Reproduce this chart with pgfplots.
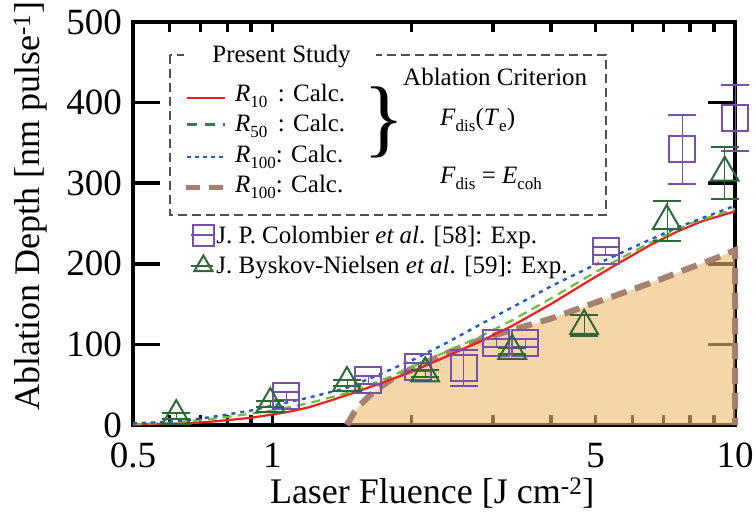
\documentclass[border=0pt]{standalone}
\usepackage{fontspec}
\setmainfont{Liberation Serif}
\usepackage{pgfplots}
\pgfplotsset{compat=1.18}

\definecolor{cred}{RGB}{240,30,30}
\definecolor{cgreenL}{RGB}{110,190,60}
\definecolor{cgreenD}{RGB}{60,120,80}
\definecolor{cblue}{RGB}{30,90,200}
\definecolor{cbrown}{RGB}{168,128,112}
\definecolor{cfill}{RGB}{238,187,110}
\definecolor{cpurple}{RGB}{120,80,170}
\definecolor{ctri}{RGB}{45,105,55}
\definecolor{cbox}{RGB}{80,80,80}

\newcommand{\sbs}[1]{\raisebox{-0.45ex}{\fontsize{17}{17}\selectfont #1}}

\pgfplotstableread{
x y
0.5 0.5
0.6 1.5
0.7 3
0.8 6
0.9 9
1.0 13
1.1 17
1.2 22
1.33 30
1.5 40
1.7 51
2.0 66
2.4 86
2.82 104
3.3 123
4.0 150
4.87 180
5.5 198
6.5 222
7.5 240
8.5 253
10 265
}\rten

\pgfplotstableread{
x y
0.5 1
0.6 3
0.7 6
0.8 10
0.9 14
1.0 18
1.2 27
1.5 42
1.8 60
2.0 72
2.4 92
2.82 110
3.3 130
4.0 157
4.87 186
5.5 203
6.5 225
8.0 250
10 268
}\rfifty

\pgfplotstableread{
x y
0.5 2
0.6 4
0.7 8
0.8 13
0.9 18
1.0 24
1.2 34
1.45 46
1.63 58
2.0 80
2.4 103
2.82 125
3.3 146
4.0 172
4.87 196
6.0 220
7.5 245
10 272
}\rhund

\pgfplotstableread{
x y
1.45 0
1.5 15
1.55 25
1.62 36
1.71 47
1.85 60
2.0 70
2.4 90
2.82 106
3.3 118
4.0 132
5.0 152
6.0 168
7.0 182
8.0 195
9.0 206
10 217
10 0
}\rcoh

\pgfplotstableread{
x y e
1.07 36 5
1.61 56 5
2.07 72 5
2.59 71 22
3.05 102 5
3.52 102 5
5.25 216 5
7.7 342 43
10 381 41
}\colombier

\pgfplotstableread{
x y e
0.62 11 4
0.99 26 4
1.45 52 4
2.14 64 4
3.3 92 4
4.72 123 13
7.12 253 25
9.5 313 32
}\byskov

\begin{document}
\begin{tikzpicture}
\useasboundingbox (0,0) rectangle (756pt,520pt);
\begin{axis}[
  at={(133pt,95pt)}, anchor=south west,
  scale only axis, width=602pt, height=403pt,
  xmode=log, xmin=0.5, xmax=10, ymin=0, ymax=500,
  xtick={0.5,1,5,10}, xticklabels={0.5,1,5,10},
  minor xtick={0.6,0.7,0.8,0.9,1,2,3,4,5,6,7,8,9},
  major x tick style={draw=none},
  ytick={0,100,200,300,400,500},
  tick align=inside,
  major tick length=27pt, minor tick length=10pt,
  tick style={line width=3.5pt, black},
  axis line style={line width=4pt},
  /pgf/number format/assume math mode=true,
  ticklabel style={font=\fontsize{37}{40}\selectfont, inner sep=1pt},
  xticklabel style={yshift=-17pt},
  yticklabel style={xshift=-10pt},
  label style={font=\fontsize{36}{40}\selectfont},
  xlabel={Laser Fluence [J cm\textsuperscript{-2}]},
  ylabel={Ablation Depth [nm pulse\textsuperscript{-1}]},
  xlabel style={at={(axis description cs:0.497,-0.17)}, anchor=center},
  ylabel style={at={(axis description cs:-0.171,0.543)}, anchor=center},
  legend style={at={(axis description cs:0.095,0.50)}, anchor=north west,
    draw=none, fill=none, inner sep=0pt, row sep=8pt,
    font=\fontsize{25}{30}\selectfont, cells={anchor=west}},
  legend image code/.code={\path (0pt,0pt) -- (22pt,0pt);
    \draw[#1, mark size=10.5pt] plot coordinates {(12pt,0pt)};},
  clip=false,
]
\addplot[draw=none, fill=cfill, fill opacity=0.6, forget plot] table {\rcoh} \closedcycle;
\addplot[cbrown, line width=6pt, dash pattern=on 16pt off 9pt, forget plot] table {\rcoh};
\addplot[cred, line width=2.2pt, forget plot] table {\rten};
\addplot[cgreenL, line width=2.2pt, dash pattern=on 9pt off 6pt, forget plot] table {\rfifty};
\addplot[cblue, line width=2.4pt, dash pattern=on 4pt off 5pt, forget plot] table {\rhund};
\addplot[cpurple, only marks, mark=square, mark size=13pt, line width=2pt,
  error bars/.cd, y dir=both, y explicit,
  error mark options={rotate=90, mark size=14pt, line width=2pt, cpurple}]
  table[x=x, y=y, y error=e] {\colombier};
\addlegendentry{J. P. Colombier \textit{et al}. [58]: Exp.}
\addplot[ctri, only marks, mark=triangle, mark size=16pt, line width=2pt,
  error bars/.cd, y dir=both, y explicit,
  error mark options={rotate=90, mark size=14pt, line width=2pt, ctri}]
  table[x=x, y=y, y error=e] {\byskov};
\addlegendentry{J. Byskov-Nielsen \textit{et al}. [59]: Exp.}
\end{axis}

\begin{scope}[x=1pt, y=-1pt, shift={(0pt,520pt)}]
\draw[cbox, line width=1.3pt, dash pattern=on 9pt off 5pt] (170,55) rectangle (606,215);
\fill[white] (184,48) rectangle (376,62);
\node[font=\fontsize{25}{30}\selectfont] at (281.5,57) {Present Study};
\draw[cred, line width=2.5pt] (187,98) -- (225,98);
\draw[cgreenD, line width=2.5pt, dash pattern=on 10pt off 8pt] (187,124.5) -- (225,124.5);
\draw[cblue, line width=2.5pt, dash pattern=on 4pt off 4pt] (187,157) -- (225,157);
\draw[cbrown, line width=5pt, dash pattern=on 14pt off 9pt] (186,188) -- (230,188);
\begin{scope}[every node/.style={anchor=base west, inner sep=0pt, font=\fontsize{25}{30}\selectfont}]
\node at (235,102) {\textit{R}\sbs{10}\, : Calc.};
\node at (235,132) {\textit{R}\sbs{50}\, : Calc.};
\node at (235,163) {\textit{R}\sbs{100}: Calc.};
\node at (235,193) {\textit{R}\sbs{100}: Calc.};
\node at (403,86) {Ablation Criterion};
\node at (440,126) {\textit{F}\sbs{dis}(\textit{T}\sbs{e})};
\node at (440,184) {\textit{F}\sbs{dis} = \textit{E}\sbs{coh}};
\end{scope}
\node[font=\fontsize{86}{86}\selectfont, inner sep=0pt] at (384,122) {\}};
\end{scope}
\end{tikzpicture}
\end{document}
